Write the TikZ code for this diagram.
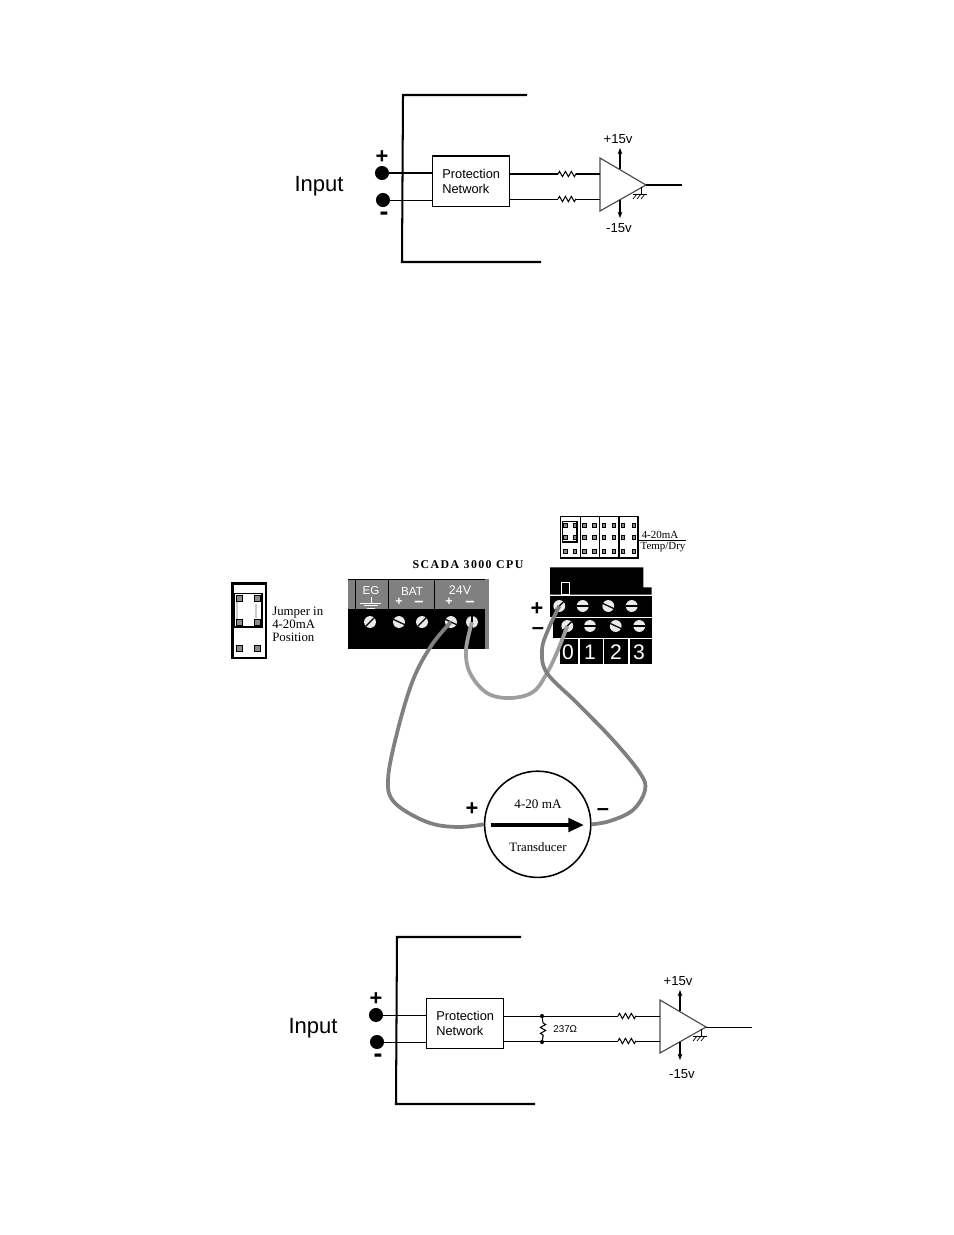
\documentclass[tikz,border=0pt]{standalone}
\usepackage{fontspec}
\setmainfont{Liberation Serif}
\setsansfont{Liberation Sans}
\newfontfamily\spacedfont[LetterSpace=12]{Liberation Serif}
\usetikzlibrary{positioning,calc,arrows.meta,decorations.pathmorphing}
\tikzset{
	sans/.style={font=\sffamily\fontsize{#1}{#1}\selectfont,inner sep=0pt},
	serif/.style={font=\fontsize{#1}{#1}\selectfont,inner sep=0pt},
	bigmark/.style={font=\sffamily\bfseries\fontsize{#1}{#1}\selectfont,inner sep=0pt,text height=0.45*#1pt},
	thinwire/.style={line width=0.65pt},
	framewire/.style={line width=1.3pt},
	ampwire/.style={line width=0.75pt,draw=black!70},
	res/.style={thinwire,decorate,decoration={zigzag,amplitude=1.7pt,segment length=3.8pt}},
	power/.style={thinwire,-{Stealth[length=4pt,width=3pt]}},
	term/.style={circle,fill=black,minimum size=9pt,inner sep=0pt},
	pnbox/.style={draw,thinwire,minimum width=49.5pt,minimum height=32pt,inner sep=0pt},
	screwhead/.style={circle,fill=black!8,minimum size=7.6pt,inner sep=0pt},
	slot/.style={line width=0.8pt,black},
	pinsq/.style={fill=black!45,draw=black,line width=0.5pt},
	cable/.style={line width=2.4pt,line join=round},
}
\begin{document}
\begin{tikzpicture}[x=0.64pt,y=-0.64pt]
	\useasboundingbox (0,0) rectangle (954,1235);

	% the two input circuits
	\foreach \c/\ox/\oy/\d/\l/\e in {a/0/0/0/36/0,b/-6/842/66/46/4} {
		\begin{scope}[shift={(\ox,\oy)}]
			\draw[framewire] (527,95) -- (403,95) -- (402,262) -- (541,262);
			\node[sans=14.1] (input\c) at (319,186.5) {Input};
			\node[term] (plus\c) at (382,173) {};
			\node[term] (minus\c) at (383,200) {};
			\node[bigmark=14] (plusmark\c) at (382,159) {+};
			\node[bigmark=17] (minusmark\c) at (384,215) {-};
			\node[pnbox] (pn\c) at (471,181) {};
			\node[sans=8.2,align=left,anchor=west] (pntext\c) at (442,181.5) {Protection\\[1.2pt]Network};
			\draw[thinwire] (plus\c) -- (pn\c.west |- plus\c);
			\draw[thinwire] (minus\c) -- (pn\c.west |- minus\c);

			% amplifier
			\coordinate (ampup\c) at (600+\d,174);
			\coordinate (ampdn\c) at (600+\d,199);
			\coordinate (apex\c) at (646+\d,185);
			\coordinate (rupa\c) at (558+\d,174);
			\coordinate (rupb\c) at (576+\d,174);
			\coordinate (rdna\c) at (558+\d,199);
			\coordinate (rdnb\c) at (576+\d,199);
			\coordinate (outend\c) at (646+\d+\l,185);
			\draw[ampwire] (600+\d,158) -- (600+\d,211) -- (apex\c) -- cycle;
			\draw[thinwire] (pn\c.east |- rupa\c) -- (rupa\c);
			\draw[thinwire] (pn\c.east |- rdna\c) -- (rdna\c);
			\draw[res] (rupa\c) -- (rupb\c);
			\draw[res] (rdna\c) -- (rdnb\c);
			\draw[thinwire] (rupb\c) -- (ampup\c);
			\draw[thinwire] (rdnb\c) -- (ampdn\c);
			\draw[thinwire] (apex\c) -- (outend\c);
			\draw[power] (620+\d,169) -- (620+\d,148);
			\draw[power] (620+\d,200) -- (620+\d,218);
			\node[sans=8.4] (vpos\c) at (618+\d,139.5) {+15v};
			\node[sans=8.4] (vneg\c) at (619+\d+\e*0.75,228+\e) {-15v};

			% ground at the apex
			\draw[line width=0.45pt] (641+\d,187) -- (641+\d,194) (633+\d,194) -- (647+\d,194);
			\foreach \t in {0,4,8} {
				\draw[line width=0.45pt] (637+\d+\t,194) -- (633+\d+\t,199);
			}
		\end{scope}
	}

	% load resistor of the lower circuit
	\coordinate (jtop) at (542,1016);
	\coordinate (jbot) at (542,1042);
	\coordinate (rload) at (543,1023);
	\coordinate (rloadb) at (543,1037);
	\fill (jtop) circle (1.3pt) (jbot) circle (1.3pt);
	\draw[thinwire] (jtop) -- (rload) (rloadb) -- (jbot);
	\draw[res] (rload) -- (rloadb);
	\node[sans=6.3,anchor=west] (rvalue) at (553,1029) {237Ω};

	% jumper on the left
	\draw[line width=1.6pt] (232.5,583.5) rectangle (266,658);
	\draw[line width=0.8pt] (234.5,593.5) rectangle (262,627);
	\draw[line width=1.3pt] (262,593.5) -- (262,627) -- (234.5,627);
	\fill[black!20] (236,595) rectangle (237.8,625);
	\fill[black!20] (255,604) rectangle (257,618);
	\foreach \x in {239.5,257.5} {
		\foreach \y in {598,622,648} {
			\filldraw[pinsq] (\x-3,\y-3) rectangle (\x+3,\y+3);
		}
	}
	\node[serif=8.2,align=left,anchor=west] (jumpertext) at (272,624.5) {Jumper in\\[0.1pt]4-20mA\\[0.1pt]Position};

	% CPU terminal block
	\node[font=\spacedfont\bfseries\fontsize{7.6}{7.6}\selectfont,inner sep=0pt] (cputitle) at (468,565) {SCADA 3000 CPU};
	\fill[black!50] (348,579) rectangle (485,609);
	\fill[black!50] (485,579) rectangle (488.5,648.7);
	\fill (348,609) rectangle (485,648.7);
	\draw[thinwire] (348,579) -- (485,579);
	\foreach \x in {355,388,434} { \draw[line width=0.5pt] (\x,579) -- (\x,609); }
	\node[sans=7.4,text=white] (egtext) at (371,590.5) {EG};
	\node[sans=7.5,text=white] (battext) at (412,591) {BAT};
	\node[sans=8,text=white] (vtext) at (460,590.5) {24V};
	\draw[white,line width=0.5pt] (371,597) -- (371,603) (360,603) -- (381,603) (364,605.5) -- (378,605.5) (367,608) -- (375,608);
	\node[bigmark=8,text=white] (batplus) at (399,602.5) {+};
	\node[bigmark=10.5,text=white] (batminus) at (419,603) {–};
	\node[bigmark=8,text=white] (vplus) at (449,602.5) {+};
	\node[bigmark=10.5,text=white] (vminus) at (470,603) {–};

	% jumper block, upper right
	\draw[line width=0.8pt] (560.5,516.5) rectangle (638,558);
	\foreach \x in {580.5,599.7,619} { \draw[line width=0.8pt] (\x,516.5) -- (\x,558); }
	\foreach \x in {565.3,575,584.3,594.3,603.7,613.7,623,633.7} {
		\foreach \y in {525.3,537.3,551.3} {
			\filldraw[pinsq] (\x-1.7,\y-1.7) rectangle (\x+1.7,\y+1.7);
		}
	}
	\draw[line width=0.8pt] (562.3,521.3) rectangle (577,542);
	\draw[thinwire] (638,540.3) -- (686,540.3);
	\node[serif=7,anchor=south] (ratext) at (660,538.8) {4-20mA};
	\node[serif=7,anchor=north] (tdtext) at (663,541.5) {Temp/Dry};

	% input terminal block
	\fill (550,567.3) -- (643.3,567.3) -- (643.3,587.3) -- (651.7,587.3) -- (651.7,594.5) -- (550,594.5) -- cycle;
	\fill (550,595.7) rectangle (651.7,616.7);
	\fill (553,618) rectangle (651.7,637.7);
	\draw[white,line width=0.6pt] (561.7,582.7) rectangle (569.3,594);
	\fill (560,639.3) rectangle (578.3,664);
	\fill (580,639.3) rectangle (603.3,664);
	\fill (604.3,639.3) rectangle (627.7,664);
	\fill (629.7,639.3) rectangle (651.7,664);
	\foreach \x/\m in {568/0,590/1,616/2,639/3} {
		\node[sans=13.5,text=white] (digit\m) at (\x,652) {\m};
	}
	\node[bigmark=14] (termplus) at (537,611) {+};
	\node[bigmark=14] (termminus) at (538,629.5) {–};

	% screws
	\foreach \n/\x/\y/\a in {cpua/370/622/-45,cpub/399/622/25,cpuc/422/622/-45,cpud/451/622/25,cpue/472/622/90,
		rowaa/559.3/606/-45,rowab/582.7/606/0,rowac/608.3/606/25,rowad/631.7/606/0,
		rowba/567.3/626/-45,rowbb/590/626/0,rowbc/615.7/626/25,rowbd/639.3/626/0} {
		\node[screwhead] (\n) at (\x,\y) {};
		\draw[slot] ([shift={(\a:6)}]\n.center) -- ([shift={(\a+180:6)}]\n.center);
	}

	% transducer
	\node[circle,draw,line width=1pt,minimum size=68pt,inner sep=0pt] (xd) at (537.7,824.3) {};
	\coordinate (arrowa) at (490.7,825);
	\coordinate (arrowb) at (584,825);
	\draw[line width=2.6pt,-{Triangle[length=10pt,width=8.5pt]}] (arrowa) -- (arrowb);
	\node[serif=8.4] (xdrange) at (538,804) {4-20 mA};
	\node[serif=8.2] (xdname) at (538,847) {Transducer};
	\node[bigmark=14] (xdplus) at (472,811) {+};
	\node[bigmark=14] (xdminus) at (603,810.5) {–};

	% cables
	\draw[cable,black!50] plot[smooth,tension=0.6] coordinates {(cpud.center) (431.7,645) (413,680) (397,733) (388,780) (395,803) (427,822) (457,827) (xd.west)};
	\draw[cable,black!38] plot[smooth,tension=0.6] coordinates {(cpue.center) (466,650) (470,673) (487,693) (510,698) (533,692) (547,673) (558,650) (rowba.center)};
	\draw[cable,black!50] plot[smooth,tension=0.6] coordinates {(rowaa.center) (548,630) (542,650) (547,673) (577,703) (613,740) (640,773) (645,790) (633,810) (610,821) (xd.east)};
\end{tikzpicture}
\end{document}
